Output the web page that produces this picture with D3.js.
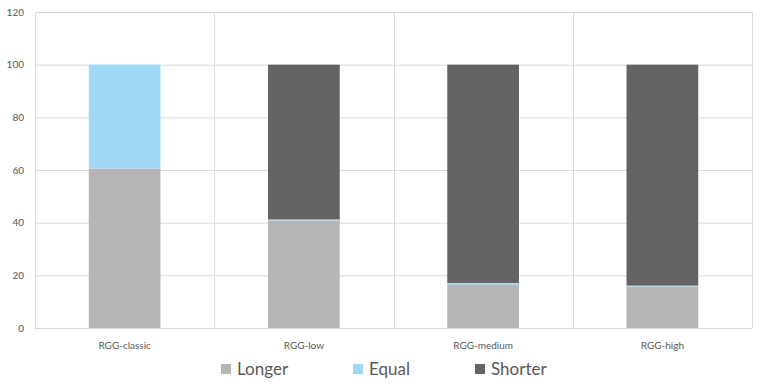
<!DOCTYPE html>
<html><head><meta charset="utf-8">
<script src="https://cdn.jsdelivr.net/npm/d3@7"></script>
<style>body{margin:0;background:#fff;} svg{display:block;font-family:Lato,"Open Sans",sans-serif;}</style>
</head><body>
<svg id="c" width="764" height="392"></svg>
<script>
const categories = ["RGG-classic","RGG-low","RGG-medium","RGG-high"];
const seriesNames = ["Longer","Equal","Shorter"];
const longer  = [60.5, 40.8, 16.6, 15.6];
const equal   = [39.5, 0.4, 0.5, 0.5];
const shorter = [0, 58.8, 82.9, 83.9];
const yTicks = [0,20,40,60,80,100,120];
const colors = ["#b5b5b5","#a0d9f3","#636363"];

const svg = d3.select("#c");
const L = 35, R = 752, T = 12, B = 328;
const x = d3.scaleBand().domain(categories).range([L,R]).paddingInner(0).paddingOuter(0);
const y = d3.scaleLinear().domain([0,120]).range([B,T]);

// horizontal gridlines
svg.append("g").selectAll("line").data(yTicks).join("line")
  .attr("x1",L).attr("x2",R).attr("y1",d=>y(d)+0.5).attr("y2",d=>y(d)+0.5)
  .attr("stroke","#d9d9d9").attr("stroke-width",1);
// vertical gridlines at category boundaries
const bounds = categories.map(c=>x(c)).concat([R]);
svg.append("g").selectAll("line").data(bounds).join("line")
  .attr("x1",d=>Math.round(d)+0.5).attr("x2",d=>Math.round(d)+0.5).attr("y1",T).attr("y2",B)
  .attr("stroke","#d9d9d9").attr("stroke-width",1);

const rows = categories.map((c,i)=>({cat:c, Longer:longer[i], Equal:equal[i], Shorter:shorter[i]}));
const stack = d3.stack().keys(seriesNames)(rows);
const bw = x.bandwidth()*0.4;
svg.append("g").selectAll("g").data(stack).join("g").attr("fill",(d,i)=>colors[i])
  .selectAll("rect").data(d=>d).join("rect")
  .attr("x",d=>x(d.data.cat)+(x.bandwidth()-bw)/2)
  .attr("width",bw)
  .attr("y",d=>y(d[1]))
  .attr("height",d=>Math.max(0,y(d[0])-y(d[1])));

// y axis labels
const yAxis = d3.axisLeft(y).tickValues(yTicks).tickSize(0).tickPadding(11);
const ga = svg.append("g").attr("transform",`translate(${L},0)`).call(yAxis);
ga.select(".domain").remove();
ga.selectAll("text").attr("fill","#595959").style("font-size","10px").style("font-family","Lato,'Open Sans',sans-serif");

// x axis labels
const xAxis = d3.axisBottom(x).tickSize(0).tickPadding(14);
const gx = svg.append("g").attr("transform",`translate(0,${B})`).call(xAxis);
gx.select(".domain").remove();
gx.selectAll("text").attr("fill","#595959").style("font-size","10px").style("font-family","Lato,'Open Sans',sans-serif");

// legend
const legX = [221, 353, 475];
const leg = svg.append("g").selectAll("g").data(seriesNames).join("g")
  .attr("transform",(d,i)=>`translate(${legX[i]},364)`);
leg.append("rect").attr("width",10).attr("height",10).attr("fill",(d,i)=>colors[i]);
leg.append("text").attr("x",16).attr("y",11).text(d=>d)
  .attr("fill","#595959").style("font-size","17px");
</script>
</body></html>
